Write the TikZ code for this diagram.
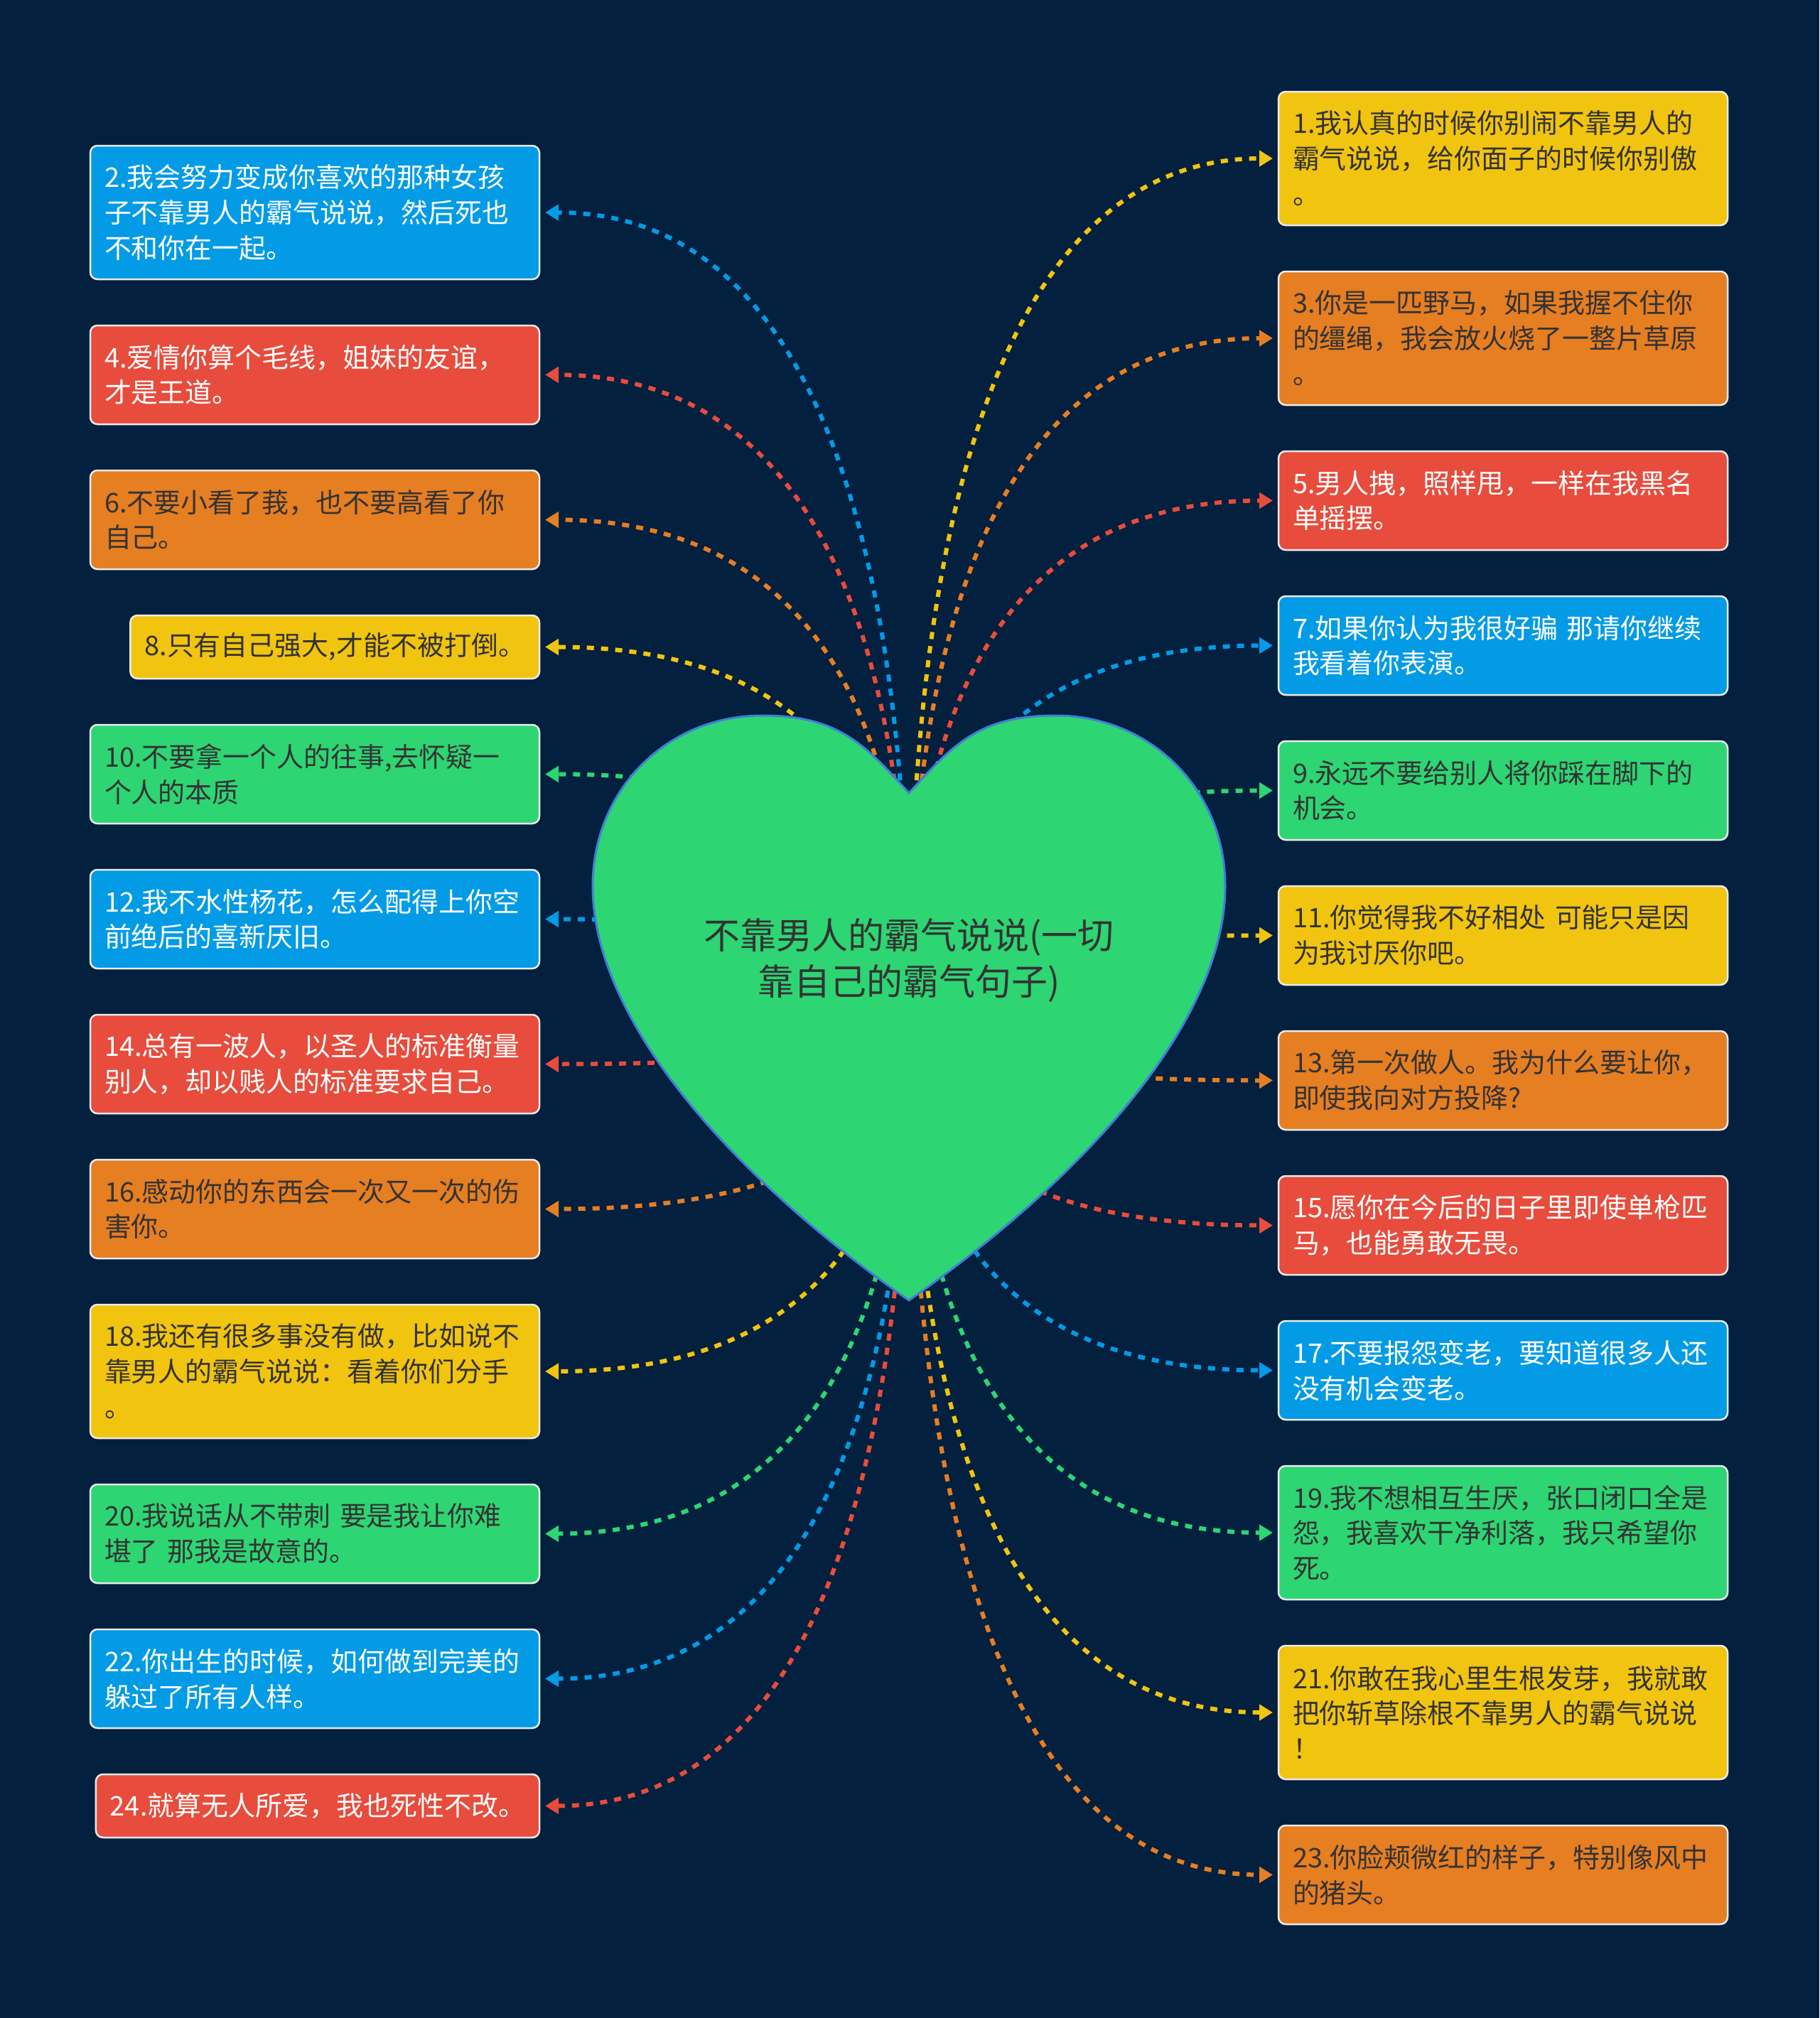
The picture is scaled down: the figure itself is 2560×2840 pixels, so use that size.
\documentclass[tikz,border=0pt]{standalone}
\usepackage{fontspec}
\setmainfont{Noto Sans CJK SC}
\usetikzlibrary{arrows.meta,positioning,calc,backgrounds}
\definecolor{BgNavy}{HTML}{03203F}
\definecolor{FlatYellow}{HTML}{F1C40F}
\definecolor{FlatOrange}{HTML}{E67E22}
\definecolor{FlatRed}{HTML}{E74C3C}
\definecolor{FlatBlue}{HTML}{039BE5}
\definecolor{FlatGreen}{HTML}{2ED573}
\definecolor{HeartEdge}{HTML}{3F7FD8}
\definecolor{TextDark}{HTML}{333333}
\tikzset{
  box/.style={draw=white!92!black, line width=0.25mm, rounded corners=1mm, align=left, inner xsep=2mm, inner ysep=0pt, outer sep=0pt, font=\fontsize{10.8pt}{14.2pt}\selectfont},
  wide/.style={text width=59.2mm},
  oneline/.style={minimum height=8.9mm},
  twoline/.style={minimum height=13.9mm},
  threeline/.style={minimum height=18.8mm},
  yellowbox/.style={box, fill=FlatYellow, text=TextDark},
  orangebox/.style={box, fill=FlatOrange, text=TextDark},
  greenbox/.style={box, fill=FlatGreen, text=TextDark},
  redbox/.style={box, fill=FlatRed, text=white},
  bluebox/.style={box, fill=FlatBlue, text=white},
  link/.style={-{Triangle[length=1.9mm,width=2.2mm]}, line width=0.6mm, dash pattern=on 1mm off 1mm, shorten >=0.8mm,
    to path={.. controls ($(\tikztostart)!2/3!(\tikztostart |- \tikztotarget)$) and ($(\tikztotarget)!2/3!(\tikztostart |- \tikztotarget)$) .. (\tikztotarget) \tikztonodes}}
}

\begin{document}
\begin{tikzpicture}[x=0.1mm, y=-0.1mm, node distance=6.5mm]
\useasboundingbox (0,0) rectangle (2560,2840);
\coordinate (core) at (1279,1418);
\node[font=\fontsize{14.5pt}{18.5pt}\selectfont, text=TextDark, align=center] (title) at (1279,1351) {不靠男人的霸气说说(一切\\靠自己的霸气句子)};

% left column
\node[bluebox, wide, threeline, anchor=north east] (s2) at (759,205) {2.我会努力变成你喜欢的那种女孩\\子不靠男人的霸气说说，然后死也\\不和你在一起。};
\node[redbox, wide, twoline, below=of s2.south east, anchor=north east] (s4) {4.爱情你算个毛线，姐妹的友谊，\\才是王道。};
\node[orangebox, wide, twoline, below=of s4.south east, anchor=north east] (s6) {6.不要小看了莪，也不要高看了你\\自己。};
\node[yellowbox, oneline, below=of s6.south east, anchor=north east] (s8) {8.只有自己强大,才能不被打倒。};
\node[greenbox, wide, twoline, below=of s8.south east, anchor=north east] (s10) {10.不要拿一个人的往事,去怀疑一\\个人的本质};
\node[bluebox, wide, twoline, below=of s10.south east, anchor=north east] (s12) {12.我不水性杨花，怎么配得上你空\\前绝后的喜新厌旧。};
\node[redbox, wide, twoline, below=of s12.south east, anchor=north east] (s14) {14.总有一波人，以圣人的标准衡量\\别人，却以贱人的标准要求自己。};
\node[orangebox, wide, twoline, below=of s14.south east, anchor=north east] (s16) {16.感动你的东西会一次又一次的伤\\害你。};
\node[yellowbox, wide, threeline, below=of s16.south east, anchor=north east] (s18) {18.我还有很多事没有做，比如说不\\靠男人的霸气说说：看着你们分手\\。};
\node[greenbox, wide, twoline, below=of s18.south east, anchor=north east] (s20) {20.我说话从不带刺 要是我让你难\\堪了 那我是故意的。};
\node[bluebox, wide, twoline, below=of s20.south east, anchor=north east] (s22) {22.你出生的时候，如何做到完美的\\躲过了所有人样。};
\node[redbox, oneline, below=of s22.south east, anchor=north east] (s24) {24.就算无人所爱，我也死性不改。};

% right column
\node[yellowbox, wide, threeline, anchor=north west] (s1) at (1799,129) {1.我认真的时候你别闹不靠男人的\\霸气说说，给你面子的时候你别傲\\。};
\node[orangebox, wide, threeline, below=of s1.south west, anchor=north west] (s3) {3.你是一匹野马，如果我握不住你\\的缰绳，我会放火烧了一整片草原\\。};
\node[redbox, wide, twoline, below=of s3.south west, anchor=north west] (s5) {5.男人拽，照样甩，一样在我黑名\\单摇摆。};
\node[bluebox, wide, twoline, below=of s5.south west, anchor=north west] (s7) {7.如果你认为我很好骗 那请你继续\\我看着你表演。};
\node[greenbox, wide, twoline, below=of s7.south west, anchor=north west] (s9) {9.永远不要给别人将你踩在脚下的\\机会。};
\node[yellowbox, wide, twoline, below=of s9.south west, anchor=north west] (s11) {11.你觉得我不好相处 可能只是因\\为我讨厌你吧。};
\node[orangebox, wide, twoline, below=of s11.south west, anchor=north west] (s13) {13.第一次做人。我为什么要让你，\\即使我向对方投降?};
\node[redbox, wide, twoline, below=of s13.south west, anchor=north west] (s15) {15.愿你在今后的日子里即使单枪匹\\马，也能勇敢无畏。};
\node[bluebox, wide, twoline, below=of s15.south west, anchor=north west] (s17) {17.不要报怨变老，要知道很多人还\\没有机会变老。};
\node[greenbox, wide, threeline, below=of s17.south west, anchor=north west] (s19) {19.我不想相互生厌，张口闭口全是\\怨，我喜欢干净利落，我只希望你\\死。};
\node[yellowbox, wide, threeline, below=of s19.south west, anchor=north west] (s21) {21.你敢在我心里生根发芽，我就敢\\把你斩草除根不靠男人的霸气说说\\！};
\node[orangebox, wide, twoline, below=of s21.south west, anchor=north west] (s23) {23.你脸颊微红的样子，特别像风中\\的猪头。};

\begin{pgfonlayer}{background}
\fill[BgNavy] (0,0) rectangle (2560,2840);
% links
\draw[link, FlatBlue] (core) to (s2.east);
\draw[link, FlatRed] (core) to (s4.east);
\draw[link, FlatOrange] (core) to (s6.east);
\draw[link, FlatYellow] (core) to (s8.east);
\draw[link, FlatGreen] (core) to (s10.east);
\draw[link, FlatBlue] (core) to (s12.east);
\draw[link, FlatRed] (core) to (s14.east);
\draw[link, FlatOrange] (core) to (s16.east);
\draw[link, FlatYellow] (core) to (s18.east);
\draw[link, FlatGreen] (core) to (s20.east);
\draw[link, FlatBlue] (core) to (s22.east);
\draw[link, FlatRed] (core) to (s24.east);
\draw[link, FlatYellow] (core) to (s1.west);
\draw[link, FlatOrange] (core) to (s3.west);
\draw[link, FlatRed] (core) to (s5.west);
\draw[link, FlatBlue] (core) to (s7.west);
\draw[link, FlatGreen] (core) to (s9.west);
\draw[link, FlatYellow] (core) to (s11.west);
\draw[link, FlatOrange] (core) to (s13.west);
\draw[link, FlatRed] (core) to (s15.west);
\draw[link, FlatBlue] (core) to (s17.west);
\draw[link, FlatGreen] (core) to (s19.west);
\draw[link, FlatYellow] (core) to (s21.west);
\draw[link, FlatOrange] (core) to (s23.west);
% heart
\draw[fill=FlatGreen, draw=HeartEdge, line width=0.3mm]
  (1279,1116) .. controls (1219,1051) and (1183,1007) .. (1073,1007)
  .. controls (938,1007) and (834,1112) .. (834,1247)
  .. controls (834,1430) and (1019,1648) .. (1279,1830)
  .. controls (1539,1648) and (1724,1430) .. (1724,1247)
  .. controls (1724,1112) and (1620,1007) .. (1485,1007)
  .. controls (1375,1007) and (1339,1051) .. (1279,1116) -- cycle;
\end{pgfonlayer}
\end{tikzpicture}
\end{document}
